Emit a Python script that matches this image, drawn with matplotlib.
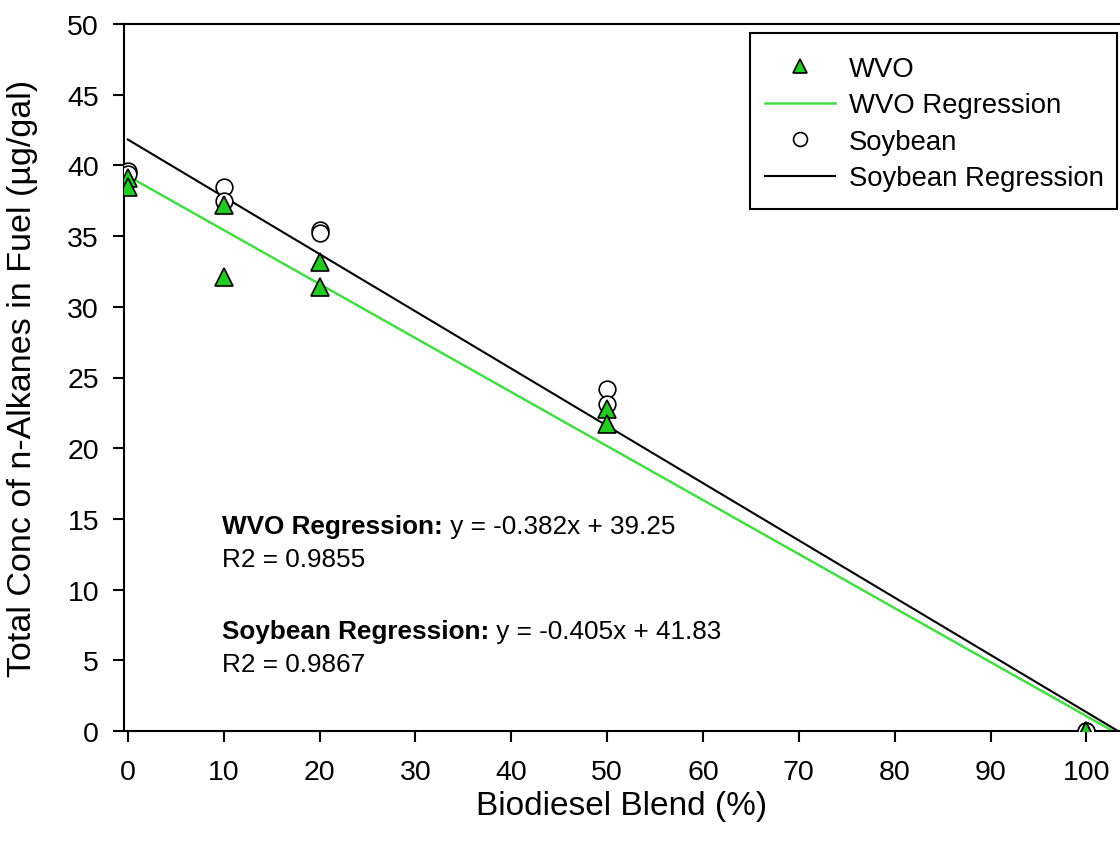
import numpy as np
import matplotlib
matplotlib.use("Agg")
import matplotlib.pyplot as plt
from matplotlib.patches import Rectangle

plt.rcParams['font.family'] = ['Liberation Sans', 'DejaVu Sans']

# data
wvo_x = [0, 0, 10, 10, 20, 20, 50, 50, 100, 100]
wvo_y = [39.1, 38.5, 37.2, 32.1, 33.2, 31.4, 22.8, 21.7, 0.0, 0.0]
soy_x = [0, 0, 10, 10, 20, 20, 50, 50, 100, 100]
soy_y = [39.6, 39.4, 38.5, 37.5, 35.4, 35.2, 24.2, 23.1, 0.0, 0.0]

# regression coefficients (slope, intercept) as printed on the chart
wvo_fit = (-0.382, 39.25)
soy_fit = (-0.405, 41.83)

x_ticks = [0, 10, 20, 30, 40, 50, 60, 70, 80, 90, 100]
y_ticks = [0, 5, 10, 15, 20, 25, 30, 35, 40, 45, 50]

W, H = 1120, 845
fig = plt.figure(figsize=(W / 100, H / 100), dpi=100)
ax = fig.add_axes([124 / W, 1 - 732 / H, 1 - 124 / W, (732 - 25) / H])

green = '#22cc22'

# regression lines from x=0 to the zero crossing
for (m, b), col, lw, lab in [(wvo_fit, '#44dd44', 1.8, 'WVO Regression'),
                             (soy_fit, 'black', 1.5, 'Soybean Regression')]:
    xs = np.array([0, -b / m])
    ax.plot(xs, m * xs + b, color=col, lw=lw, label=lab, zorder=2)

ax.plot(soy_x, soy_y, 'o', ms=12, mfc='white', mec='black', mew=1.2,
        label='Soybean', zorder=3)
ax.plot(wvo_x, wvo_y, '^', ms=13, mfc=green, mec='black', mew=1.2,
        label='WVO', zorder=4)

ax.set_xlim(-0.4, 103.5)
ax.set_ylim(0, 50)
ax.set_xticks(x_ticks)
ax.set_yticks(y_ticks)
ax.tick_params(direction='out', length=8, width=1.5, labelsize=20.5)
ax.tick_params(axis='x', pad=12)
ax.tick_params(axis='y', pad=10)
for s in ['left', 'bottom', 'top']:
    ax.spines[s].set_linewidth(1.5)
ax.spines['right'].set_visible(False)

ax.set_xlabel('Biodiesel Blend (%)', fontsize=24, labelpad=4)
ax.set_ylabel('Total Conc of n-Alkanes in Fuel (µg/gal)', fontsize=24.5)
ax.yaxis.set_label_coords((38 - 124) / 996, 0.5)

# legend: frame drawn as a separate box, entries placed inside it
fig.patches.append(Rectangle((750 / W, 1 - 210 / H), 367 / W, 176 / H,
                             transform=fig.transFigure, fill=True, fc='white',
                             ec='black', lw=1.5, zorder=5))
handles, labels = ax.get_legend_handles_labels()
order = ['WVO', 'WVO Regression', 'Soybean', 'Soybean Regression']
hmap = dict(zip(labels, handles))
leg = fig.legend([hmap[k] for k in order], order, loc='upper left',
                 bbox_to_anchor=(765 / W, 1 - 57 / H),
                 bbox_transform=fig.transFigure, fontsize=19.8, frameon=False,
                 borderpad=0, handlelength=2.55, labelspacing=0.38,
                 handletextpad=0.5, borderaxespad=0)
leg.set_zorder(6)
for h in leg.legend_handles:
    if h.get_marker() in ('^', 'o'):
        h.set_markersize(10)

# regression annotations
fig.canvas.draw()
rend = fig.canvas.get_renderer()
for yv, name, eq, r2 in [(14.5, 'WVO Regression:', ' y = -0.382x + 39.25', 'R2 = 0.9855'),
                         (7.1, 'Soybean Regression:', ' y = -0.405x + 41.83', 'R2 = 0.9867')]:
    t = ax.text(9.8, yv, name, fontsize=18.8, fontweight='bold', va='center')
    bb = t.get_window_extent(renderer=rend)
    x_end = ax.transData.inverted().transform((bb.x1, bb.y0))[0]
    ax.text(x_end, yv, eq, fontsize=18.8, va='center')
    ax.text(9.8, yv - 2.35, r2, fontsize=18.8, va='center')

fig.savefig('out.png', dpi=100)
